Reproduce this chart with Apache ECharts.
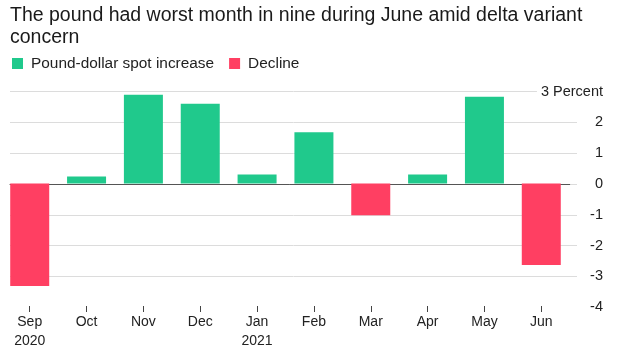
<!DOCTYPE html>
<html><head><meta charset="utf-8">
<script src="https://cdn.jsdelivr.net/npm/echarts@6/dist/echarts.min.js"></script>
<style>html,body{margin:0;padding:0;background:#fff}#c{width:620px;height:351px}</style>
</head><body><div id="c"></div>
<script>
const categories = ['Sep\n2020','Oct','Nov','Dec','Jan\n2021','Feb','Mar','Apr','May','Jun'];
const changes = [-3.35, 0.23, 2.9, 2.6, 0.29, 1.67, -1.04, 0.29, 2.83, -2.66];
const yTicks = [-4,-3,-2,-1,0,1,2,3];
const increase = changes.map(v => v >= 0 ? v : '-');
const decline = changes.map(v => v < 0 ? v : '-');
const FONT = '"Liberation Sans", Arial, sans-serif';
const yMin = yTicks[0], yMax = yTicks[yTicks.length-1];
const chart = echarts.init(document.getElementById('c'));
chart.setOption({
  animation:false,
  textStyle:{fontFamily:FONT},
  title:{text:'The pound had worst month in nine during June amid delta variant\nconcern',left:5,top:0,
    textStyle:{fontFamily:FONT,fontSize:19.5,fontWeight:'normal',color:'#1a1a1a',lineHeight:22}},
  legend:{left:7,top:51,itemWidth:11,itemHeight:11,itemGap:15,icon:'rect',
    textStyle:{fontFamily:FONT,fontSize:15.4,color:'#222',padding:[0,0,0,3]},
    data:['Pound-dollar spot increase','Decline']},
  grid:[
    {left:10,right:43,top:91.6,bottom:43.8},
    {left:1.3,right:50.3,top:91.6,bottom:43.8},
    {left:10,right:50.3,top:91.6,bottom:43.8}
  ],
  xAxis:[
    {gridIndex:0,type:'category',data:categories,show:false},
    {gridIndex:1,type:'category',data:categories,axisLine:{show:false,onZero:false},
      axisTick:{show:true,alignWithLabel:true,length:6,lineStyle:{color:'#444'}},
      axisLabel:{fontFamily:FONT,fontSize:14,color:'#222',margin:7,lineHeight:19}},
    {gridIndex:2,type:'category',data:categories,axisLine:{show:true,onZero:true,lineStyle:{color:'#555',width:1}},
      axisTick:{show:false},axisLabel:{show:false}}
  ],
  yAxis:[
    {gridIndex:0,type:'value',position:'right',min:yMin,max:yMax,interval:1,
      axisLine:{show:false},axisTick:{show:false},
      splitLine:{show:true,lineStyle:{color:['rgba(0,0,0,0)','#dcdcdc','#dcdcdc','#dcdcdc','#dcdcdc','#dcdcdc','#dcdcdc','#dcdcdc'],width:1}},
      axisLabel:{fontFamily:FONT,fontSize:14.5,color:'#222',align:'right',margin:26,
        backgroundColor:'#fff',padding:[2,0,2,4],
        formatter:v => v === yMax ? v + ' Percent' : String(v)}},
    {gridIndex:1,type:'value',min:yMin,max:yMax,interval:1,show:false,splitLine:{show:false}},
    {gridIndex:2,type:'value',min:yMin,max:yMax,interval:1,show:false,splitLine:{show:false}}
  ],
  series:[
    {name:'Pound-dollar spot increase',type:'bar',xAxisIndex:1,yAxisIndex:1,data:increase,barWidth:39,barGap:'-100%',
      itemStyle:{color:'#20c98c'}},
    {name:'Decline',type:'bar',xAxisIndex:1,yAxisIndex:1,data:decline,barWidth:39,barGap:'-100%',
      itemStyle:{color:'#ff3f62'}}
  ]
});
</script></body></html>
